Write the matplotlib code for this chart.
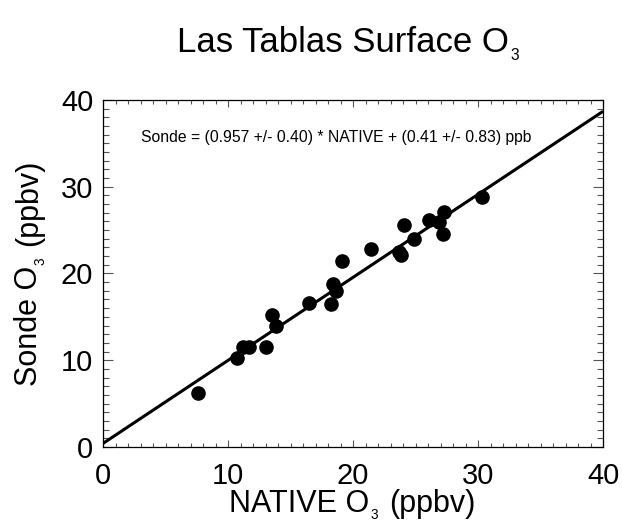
import numpy as np
import matplotlib
matplotlib.use("Agg")
import matplotlib.pyplot as plt
from matplotlib.ticker import MultipleLocator
from matplotlib.transforms import IdentityTransform

# NATIVE vs sonde surface ozone (ppbv)
native_o3 = [7.6, 10.7, 11.2, 11.7, 13.0, 13.5, 13.8, 16.5, 18.2, 18.4, 18.6,
             19.1, 21.4, 23.7, 23.8, 24.1, 24.9, 26.1, 26.9, 27.2, 27.3, 30.3]
sonde_o3 = [6.2, 10.3, 11.5, 11.5, 11.5, 15.2, 13.9, 16.6, 16.5, 18.8, 18.0,
            21.4, 22.8, 22.5, 22.1, 25.6, 24.0, 26.2, 25.9, 24.6, 27.1, 28.8]

slope = 0.957
intercept = 0.41
fit_label = "Sonde = (0.957 +/- 0.40) * NATIVE + (0.41 +/- 0.83) ppb"

plt.rcParams['font.family'] = ['Liberation Sans', 'DejaVu Sans']

W, H, DPI = 622, 525, 100
fig = plt.figure(figsize=(W / DPI, H / DPI), dpi=DPI)
ax = fig.add_axes([0.1656, 0.1486, 0.8039, 0.661])
renderer = fig.canvas.get_renderer()


def text_width(s, size):
    t = fig.text(0, 0, s, fontsize=size)
    w = t.get_window_extent(renderer).width
    t.remove()
    return w


def label_with_sub(head, sub, tail, size, x, y, rotation=0):
    """IDL-style label with a small dropped subscript, e.g. O3.
    x, y: pixel position (from bottom-left) of the baseline centre."""
    sub_size = size * 0.45
    em = size * DPI / 72.0
    drop = 0.24 * em
    space = 0.36 * em if tail else 0
    w1 = text_width(head, size) + 0.03 * em
    w2 = text_width(sub, sub_size)
    w3 = text_width(tail, size) if tail else 0
    total = w1 + w2 + space + w3
    kw = dict(transform=IdentityTransform(), ha='left', va='baseline',
              rotation=rotation, rotation_mode='anchor')
    offs = [0, w1, w1 + w2 + space]
    parts = [(head, size, 0), (sub, sub_size, drop), (tail, size, 0)]
    for off, (s, fs, d) in zip(offs, parts):
        if not s:
            continue
        if rotation == 0:
            px, py = x - total / 2 + off, y - d
        else:
            px, py = x + d, y - total / 2 + off
        fig.text(px, py, s, fontsize=fs, **kw)


ax.plot(native_o3, sonde_o3, 'o', color='black', markersize=9.5, zorder=3)

xfit = np.array([0, 40])
ax.plot(xfit, slope * xfit + intercept, color='black', linewidth=2.2,
        solid_capstyle='butt')

ax.text(0.076, 0.893, fit_label, transform=ax.transAxes, fontsize=11.3,
        ha='left', va='center')

ax.set_xlim(0, 40)
ax.set_ylim(0, 40)
ax.xaxis.set_major_locator(MultipleLocator(10))
ax.xaxis.set_minor_locator(MultipleLocator(1))
ax.yaxis.set_major_locator(MultipleLocator(10))
ax.yaxis.set_minor_locator(MultipleLocator(1))

ax.tick_params(axis='both', which='both', direction='in', top=True,
               right=True, color='#555555', width=0.8, labelsize=21)
ax.tick_params(axis='x', which='major', length=4.8, pad=11)
ax.tick_params(axis='x', which='minor', length=2.8)
ax.tick_params(axis='y', which='major', length=7.2, pad=7)
ax.tick_params(axis='y', which='minor', length=4.3)
for sp in ax.spines.values():
    sp.set_linewidth(0.9)

# axis labels and title (pixel positions of baseline centres)
label_with_sub("NATIVE O", "3", "(ppbv)", 22, 352, H - 512)
label_with_sub("Sonde O", "3", "(ppbv)", 22, 37, H - 273, rotation=90)
label_with_sub("Las Tablas Surface O", "3", "", 25, 348, H - 52)

fig.savefig("out.png", dpi=DPI)
